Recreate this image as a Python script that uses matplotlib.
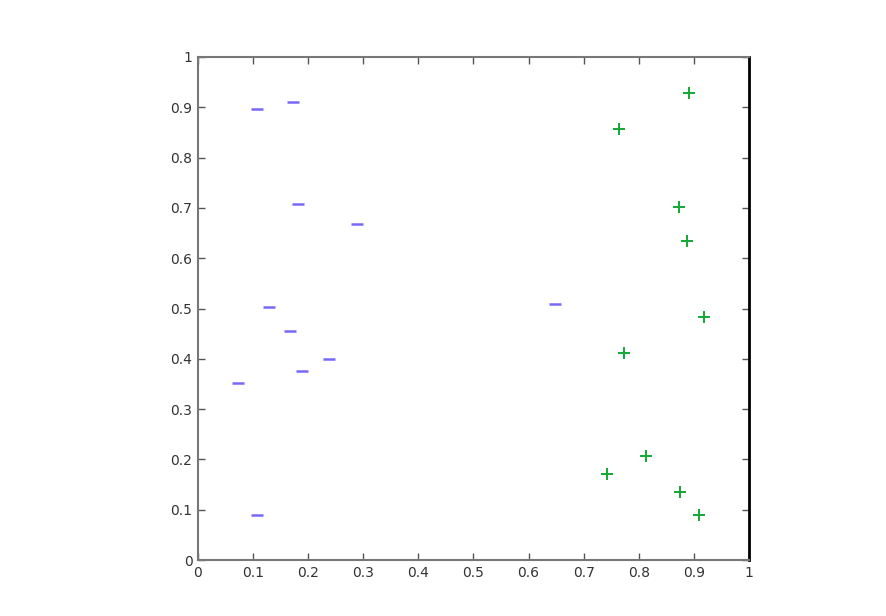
"""Two-class scatter: negatives as dashes, positives as plus signs."""

import matplotlib

matplotlib.use("Agg")
import matplotlib.pyplot as plt

# Negative class (blue dashes)
neg_x = [0.107, 0.172, 0.181, 0.289, 0.129, 0.167, 0.189, 0.238, 0.073, 0.107, 0.648]
neg_y = [0.897, 0.911, 0.708, 0.668, 0.503, 0.455, 0.376, 0.400, 0.352, 0.089, 0.509]

# Positive class (green pluses)
pos_x = [0.891, 0.764, 0.873, 0.887, 0.918, 0.773, 0.742, 0.813, 0.875, 0.909]
pos_y = [0.928, 0.857, 0.702, 0.634, 0.483, 0.412, 0.171, 0.207, 0.135, 0.089]

ticks = [0, 0.1, 0.2, 0.3, 0.4, 0.5, 0.6, 0.7, 0.8, 0.9, 1]
tick_labels = ["0", "0.1", "0.2", "0.3", "0.4", "0.5", "0.6", "0.7", "0.8", "0.9", "1"]

fig = plt.figure(figsize=(8.87, 6.16), dpi=100)
ax = fig.add_axes([198 / 887, 56 / 616, 551 / 887, 503 / 616])

ax.plot(neg_x, neg_y, linestyle="none", marker="_", markersize=9,
        markeredgewidth=1.8, color="#7868f8")
ax.plot(pos_x, pos_y, linestyle="none", marker="+", markersize=9,
        markeredgewidth=1.4, color="#14a834")

ax.set_xlim(0, 1)
ax.set_ylim(0, 1)
ax.set_xticks(ticks)
ax.set_xticklabels(tick_labels)
ax.set_yticks(ticks)
ax.set_yticklabels(tick_labels)
ax.tick_params(direction="in", length=5, width=1, colors="#555555",
               labelsize=10, top=True, right=True, pad=4)
ax.tick_params(labelcolor="#333333")

for side in ["left", "bottom", "top"]:
    ax.spines[side].set_color("#777777")
    ax.spines[side].set_linewidth(1.5)
ax.spines["right"].set_color("black")
ax.spines["right"].set_linewidth(2)

fig.savefig("out.png", dpi=100)
